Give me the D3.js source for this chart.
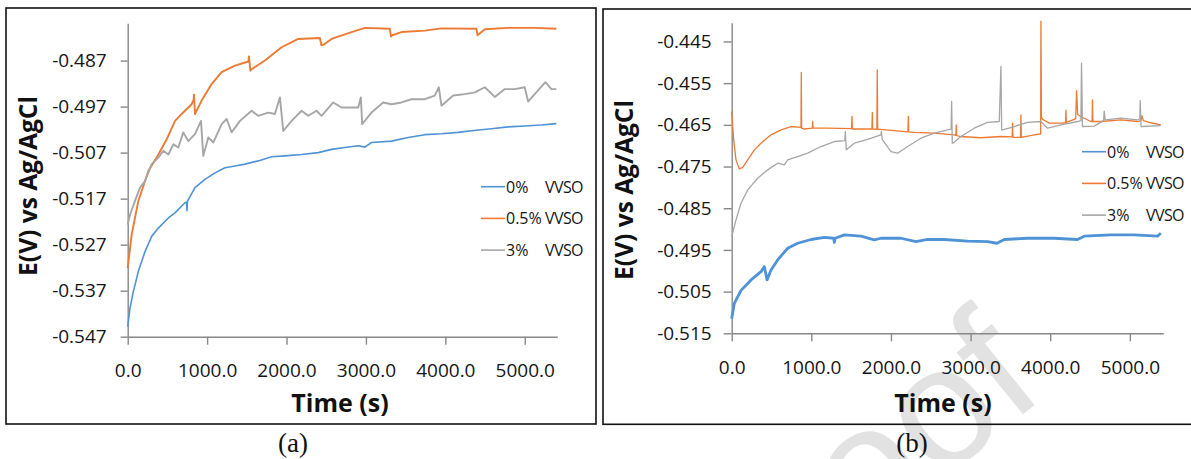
<!DOCTYPE html>
<html>
<head>
<meta charset="utf-8">
<script src="https://cdn.jsdelivr.net/npm/d3@7"></script>
<style>
  body { margin: 0; background: #fff; }
  svg { display: block; font-family: "Open Sans", sans-serif; }
</style>
</head>
<body>
<svg width="1191" height="459"></svg>
<script>
// ---- data ----
const seriesLabels = ["0%", "0.5%", "3%"];
const legendUnit = "VVSO";
const colors = ["#4f93d6", "#ec7a33", "#a6a6a6"];
const xTicks = [0, 1000, 2000, 3000, 4000, 5000];
const yTicksA = [-0.547, -0.537, -0.527, -0.517, -0.507, -0.497, -0.487];
const yTicksB = [-0.515, -0.505, -0.495, -0.485, -0.475, -0.465, -0.455, -0.445];

// panel (a) time (s), E (V)
const a0 = [[0,-0.5448],[29,-0.5408],[71,-0.5372],[134,-0.5328],[218,-0.5285],[302,-0.5252],[386,-0.5234],[512,-0.5212],[596,-0.5201],[721,-0.5179],[740,-0.5178],[747,-0.5196],[752,-0.5176],[763,-0.5172],[847,-0.5146],[973,-0.5128],[1099,-0.5114],[1225,-0.5103],[1351,-0.5099],[1477,-0.5095],[1644,-0.5088],[1812,-0.5079],[1980,-0.5077],[2190,-0.5074],[2399,-0.507],[2567,-0.5063],[2735,-0.5059],[2903,-0.5055],[2987,-0.5058],[3070,-0.5048],[3322,-0.5045],[3532,-0.5037],[3742,-0.5031],[3951,-0.5029],[4161,-0.5026],[4413,-0.5021],[4581,-0.5018],[4790,-0.5014],[5000,-0.5012],[5210,-0.501],[5398,-0.5007]];
const a5 = [[0,-0.5321],[50,-0.5248],[134,-0.5175],[260,-0.511],[386,-0.5074],[491,-0.5041],[596,-0.5001],[680,-0.4986],[805,-0.4965],[830,-0.4955],[835,-0.4944],[847,-0.4986],[931,-0.4957],[1057,-0.4921],[1183,-0.4895],[1351,-0.4881],[1520,-0.4872],[1527,-0.4861],[1545,-0.4892],[1560,-0.4889],[1728,-0.487],[1938,-0.4841],[2148,-0.4823],[2420,-0.4821],[2440,-0.4837],[2471,-0.4835],[2567,-0.4823],[2819,-0.4808],[2987,-0.4799],[3301,-0.4801],[3315,-0.4818],[3331,-0.4815],[3448,-0.4808],[3742,-0.4805],[3951,-0.48],[4392,-0.4801],[4405,-0.4815],[4421,-0.4813],[4497,-0.4802],[4790,-0.4799],[5126,-0.4799],[5398,-0.4801]];
const a3 = [[0,-0.5226],[29,-0.5205],[92,-0.5175],[155,-0.5146],[218,-0.5132],[302,-0.5095],[386,-0.5081],[449,-0.5066],[512,-0.5074],[575,-0.5052],[638,-0.5059],[700,-0.5026],[763,-0.5045],[847,-0.503],[923,-0.5001],[952,-0.5077],[1015,-0.5037],[1078,-0.5048],[1183,-0.5008],[1246,-0.4997],[1309,-0.5026],[1414,-0.5001],[1560,-0.4979],[1644,-0.499],[1770,-0.4983],[1854,-0.4986],[1917,-0.495],[1959,-0.5023],[2064,-0.5001],[2190,-0.4979],[2273,-0.499],[2378,-0.4979],[2441,-0.499],[2588,-0.4961],[2693,-0.4972],[2903,-0.4972],[2936,-0.495],[2953,-0.5008],[3070,-0.4983],[3217,-0.4961],[3322,-0.4965],[3448,-0.4961],[3574,-0.4954],[3742,-0.4954],[3867,-0.4946],[3918,-0.4928],[3951,-0.4968],[4099,-0.4946],[4245,-0.4943],[4371,-0.4939],[4497,-0.4928],[4623,-0.4949],[4749,-0.4932],[4874,-0.4932],[5000,-0.4928],[5042,-0.4959],[5126,-0.4943],[5260,-0.4917],[5336,-0.4932],[5398,-0.4932]];

// panel (b) time (s), E (V)
const b0 = [[0,-0.5115],[33,-0.5078],[117,-0.5047],[243,-0.5022],[368,-0.5002],[410,-0.499],[444,-0.5022],[494,-0.4998],[577,-0.4974],[703,-0.4946],[828,-0.4934],[996,-0.4925],[1163,-0.492],[1280,-0.4922],[1289,-0.4932],[1300,-0.4922],[1414,-0.4914],[1623,-0.4917],[1791,-0.4926],[1874,-0.4922],[2126,-0.4922],[2314,-0.493],[2460,-0.4925],[2669,-0.4925],[2962,-0.4929],[3213,-0.493],[3331,-0.4934],[3423,-0.4925],[3715,-0.4922],[4050,-0.4922],[4343,-0.4925],[4427,-0.4917],[4762,-0.4914],[5054,-0.4914],[5347,-0.4917],[5389,-0.491]];
const b5 = [[0,-0.4618],[25,-0.4686],[54,-0.4734],[96,-0.4756],[138,-0.4752],[201,-0.4734],[285,-0.471],[368,-0.4694],[494,-0.4674],[619,-0.4662],[745,-0.4654],[870,-0.4656],[874,-0.4524],[878,-0.4658],[912,-0.466],[1012,-0.4658],[1017,-0.4642],[1022,-0.4658],[1205,-0.4658],[1505,-0.4659],[1510,-0.463],[1515,-0.466],[1623,-0.466],[1761,-0.466],[1766,-0.462],[1771,-0.466],[1823,-0.4661],[1828,-0.4518],[1833,-0.4661],[1874,-0.4661],[2042,-0.4664],[2213,-0.4667],[2218,-0.463],[2223,-0.4667],[2293,-0.4668],[2544,-0.467],[2795,-0.4674],[2815,-0.4675],[2820,-0.465],[2825,-0.4676],[2879,-0.4678],[3130,-0.4681],[3381,-0.4678],[3522,-0.4679],[3527,-0.4646],[3532,-0.468],[3627,-0.468],[3632,-0.4626],[3637,-0.468],[3799,-0.4674],[3880,-0.4672],[3883,-0.4401],[3890,-0.4632],[3904,-0.4637],[3987,-0.4646],[4134,-0.4646],[4192,-0.4645],[4197,-0.4615],[4202,-0.4644],[4301,-0.4637],[4320,-0.4635],[4331,-0.4568],[4345,-0.4625],[4385,-0.463],[4510,-0.4642],[4526,-0.4642],[4531,-0.459],[4536,-0.4642],[4636,-0.4642],[4887,-0.4638],[5096,-0.4642],[5140,-0.464],[5151,-0.4628],[5170,-0.464],[5264,-0.4645],[5389,-0.465]];
const b3 = [[0,-0.4918],[54,-0.4878],[117,-0.4838],[201,-0.4806],[326,-0.4778],[452,-0.4758],[577,-0.4742],[661,-0.4746],[703,-0.4734],[828,-0.4726],[954,-0.4718],[1121,-0.4702],[1289,-0.469],[1420,-0.4688],[1427,-0.4666],[1439,-0.471],[1540,-0.4694],[1707,-0.4685],[1874,-0.4674],[1880,-0.4666],[1890,-0.4685],[2000,-0.4714],[2084,-0.4718],[2209,-0.4702],[2377,-0.4682],[2544,-0.467],[2711,-0.4662],[2755,-0.466],[2762,-0.4594],[2770,-0.4694],[2778,-0.4694],[2879,-0.4678],[3046,-0.4658],[3213,-0.4644],[3360,-0.4642],[3381,-0.451],[3390,-0.4662],[3402,-0.4662],[3548,-0.4654],[3715,-0.4644],[3883,-0.4642],[3967,-0.4658],[4134,-0.465],[4343,-0.4642],[4385,-0.464],[4393,-0.4502],[4405,-0.4654],[4418,-0.4654],[4552,-0.4653],[4670,-0.464],[4678,-0.4617],[4690,-0.4638],[4887,-0.4634],[5096,-0.4638],[5125,-0.4636],[5130,-0.4592],[5140,-0.4654],[5159,-0.4654],[5389,-0.4652]];

const svg = d3.select("svg");

// faint journal watermark, drawn first so the chart sits on top of it
svg.append("text")
  .attr("transform", "translate(1048,394) rotate(-39)")
  .attr("text-anchor", "end")
  .attr("font-family", "Liberation Sans").attr("font-size", 170)
  .attr("fill", "#e2e2e2")
  .text("Journal Pre-proof");

function drawPanel(p) {
  const g = svg.append("g");
  g.append("rect")
    .attr("x", p.box[0]).attr("y", p.box[1])
    .attr("width", p.box[2]).attr("height", p.box[3])
    .attr("fill", "none").attr("stroke", "#111").attr("stroke-width", 1.6);

  const x = d3.scaleLinear().domain([0, p.xMax]).range([p.left, p.right]);
  const y = d3.scaleLinear().domain(p.yDomain).range([p.bottom, p.top]);

  const xAxis = g.append("g")
    .attr("transform", `translate(0,${p.bottom})`)
    .call(d3.axisBottom(x).tickValues(xTicks).tickFormat(d => d.toFixed(1))
      .tickSize(8).tickSizeOuter(0).tickPadding(19));
  const yAxis = g.append("g")
    .attr("transform", `translate(${p.left},0)`)
    .call(d3.axisLeft(y).tickValues(p.yTicks).tickFormat(d => d.toFixed(3))
      .tickSize(p.yTick).tickSizeOuter(0).tickPadding(p.yPad));
  [xAxis, yAxis].forEach(a => {
    a.select(".domain").attr("stroke", "#888").attr("stroke-width", 1.4);
    a.selectAll(".tick line").attr("stroke", "#888").attr("stroke-width", 1.4);
    a.selectAll("text").attr("font-family", "Open Sans").attr("font-size", 19).attr("fill", "#151515");
  });

  const line = d3.line().x(d => x(d[0])).y(d => y(d[1]));
  p.series.forEach((s, i) => {
    g.append("path").datum(s)
      .attr("fill", "none").attr("stroke", colors[i])
      .attr("stroke-width", p.widths[i]).attr("stroke-linejoin", "round")
      .attr("d", line);
  });

  // legend
  p.series.forEach((s, i) => {
    const ly = p.legend[1] + i * p.legendStep;
    g.append("line")
      .attr("x1", p.legend[0]).attr("x2", p.legend[0] + 24)
      .attr("y1", ly).attr("y2", ly)
      .attr("stroke", colors[i]).attr("stroke-width", 1.6);
    g.append("text").attr("x", p.legend[0] + 25).attr("y", ly + 6)
      .attr("font-size", 16).attr("fill", "#151515").text(seriesLabels[i]);
    g.append("text").attr("x", p.legend[0] + 64).attr("y", ly + 6)
      .attr("font-size", 16).attr("letter-spacing", -0.6).attr("fill", "#151515").text(legendUnit);
  });

  g.append("text")
    .attr("transform", `translate(${p.yLabel[0]},${p.yLabel[1]}) rotate(-90)`)
    .attr("text-anchor", "middle").attr("font-weight", "bold").attr("font-size", 24.5)
    .attr("fill", "#111").text("E(V) vs Ag/AgCl");
  g.append("text")
    .attr("x", p.xLabel[0]).attr("y", p.xLabel[1])
    .attr("text-anchor", "middle").attr("font-weight", "bold").attr("font-size", 25)
    .attr("fill", "#111").text("Time (s)");
  g.append("text")
    .attr("x", p.caption[0]).attr("y", p.caption[1])
    .attr("text-anchor", "middle").attr("font-family", "Liberation Serif")
    .attr("font-size", 27).attr("fill", "#111").text(p.captionText);
}

drawPanel({
  box: [6, 8, 590, 416],
  left: 127.7, right: 557.3, top: 23.3, bottom: 336.7,
  xMax: 5410, yDomain: [-0.547, -0.4789], yTicks: yTicksA,
  yTick: 7, yPad: 14,
  series: [a0, a5, a3], widths: [1.6, 1.9, 1.9],
  legend: [481, 186.7], legendStep: 31.7,
  yLabel: [37, 186], xLabel: [340, 411.5],
  caption: [293, 452], captionText: "(a)"
});

drawPanel({
  box: [603, 9, 620, 415.3],
  left: 731.7, right: 1163.3, top: 22.7, bottom: 333.3,
  xMax: 5420, yDomain: [-0.515, -0.4405], yTicks: yTicksB,
  yTick: 8, yPad: 12,
  series: [b0, b5, b3], widths: [2.8, 1.3, 1.3],
  legend: [1082, 151.7], legendStep: 31.7,
  yLabel: [633, 190], xLabel: [943, 411.5],
  caption: [912, 452], captionText: "(b)"
});
</script>
</body>
</html>
